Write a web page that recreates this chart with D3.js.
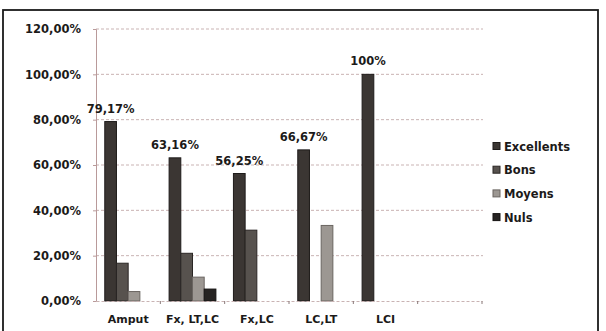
<!DOCTYPE html>
<html>
<head>
<meta charset="utf-8">
<script src="https://cdn.jsdelivr.net/npm/d3@7/dist/d3.min.js"></script>
<style>
  html, body { margin: 0; padding: 0; background: #ffffff; }
  svg { display: block; }
  text { font-family: "DejaVu Sans", Verdana, sans-serif; font-weight: bold; fill: #1c1a19; }
</style>
</head>
<body>
<svg id="chart" width="606" height="331"></svg>
<script>
const categories = ["Amput", "Fx, LT,LC", "Fx,LC", "LC,LT", "LCI", ""];
const series = ["Excellents", "Bons", "Moyens", "Nuls"];
const excellents = [79.17, 63.16, 56.25, 66.67, 100, 0];
const bons       = [16.67, 21.05, 31.25, 0, 0, 0];
const moyens     = [4.17, 10.53, 0, 33.33, 0, 0];
const nuls       = [0, 5.26, 0, 0, 0, 0];
const excellentLabels = ["79,17%", "63,16%", "56,25%", "66,67%", "100%", ""];
const yTicks = [0, 20, 40, 60, 80, 100, 120];
const yTickLabels = ["0,00%", "20,00%", "40,00%", "60,00%", "80,00%", "100,00%", "120,00%"];

const seriesValues = [excellents, bons, moyens, nuls];
const colors = {"Excellents": "#3b3633", "Bons": "#57524e", "Moyens": "#9c9792", "Nuls": "#262322"};
const strokes = {"Excellents": "#1e1b1a", "Bons": "#2a2624", "Moyens": "#6a6561", "Nuls": "#141211"};

const svg = d3.select("#chart");
const plotL = 96, plotR = 482, plotT = 29, plotB = 301;

// frame
svg.append("rect").attr("x", 3).attr("y", 10).attr("width", 595).attr("height", 330)
  .attr("fill", "none").attr("stroke", "#1a1a1a").attr("stroke-width", 1.8);

const x0 = d3.scaleBand().domain(categories).range([plotL, plotR]).paddingInner(0).paddingOuter(0);
const x1 = d3.scaleBand().domain(series).range([0, x0.bandwidth()]).paddingInner(0).paddingOuter(0.75);
const y = d3.scaleLinear().domain([0, 120]).range([plotB, plotT]);

// gridlines
svg.append("g").selectAll("line").data(yTicks.filter(d => d > 0)).join("line")
  .attr("x1", plotL).attr("x2", plotR + 1)
  .attr("y1", d => y(d)).attr("y2", d => y(d))
  .attr("stroke", "#c9b3b3").attr("stroke-width", 1).attr("stroke-dasharray", "3,2");

// y axis
const yAxis = d3.axisLeft(y).tickValues(yTicks).tickSize(3).tickFormat((d, i) => yTickLabels[i]);
const gy = svg.append("g").attr("transform", `translate(${plotL},0)`).call(yAxis);
gy.select(".domain").attr("stroke", "#b99a9a").attr("stroke-width", 1);
gy.selectAll(".tick line").attr("stroke", "#b99a9a");
gy.selectAll(".tick text").attr("x", -15).attr("font-size", 11.5).attr("fill", "#1c1a19")
  .style("font-family", "DejaVu Sans").style("font-weight", "bold");

// bars
const barData = [];
categories.forEach((c, ci) => {
  series.forEach((s, si) => {
    barData.push({cat: c, ser: s, val: seriesValues[si][ci]});
  });
});
svg.append("g").selectAll("rect").data(barData.filter(d => d.val > 0)).join("rect")
  .attr("x", d => x0(d.cat) + x1(d.ser))
  .attr("width", x1.bandwidth())
  .attr("y", d => y(d.val))
  .attr("height", d => y(0) - y(d.val))
  .attr("fill", d => colors[d.ser])
  .attr("stroke", d => strokes[d.ser]).attr("stroke-width", 1);

// x axis
const xAxis = d3.axisBottom(x0).tickSize(0).tickFormat(d => d);
const gx = svg.append("g").attr("transform", `translate(0,${plotB})`).call(xAxis);
gx.select(".domain").attr("stroke", "#c9b3b3").attr("stroke-dasharray", "3,2");
gx.selectAll(".tick text").attr("dy", 0).attr("y", 22).attr("font-size", 11)
  .style("font-family", "DejaVu Sans").style("font-weight", "bold").attr("fill", "#1c1a19");
// category boundary tick marks
const boundaries = categories.map(c => x0(c) + x0.bandwidth()).slice(0);
svg.append("g").selectAll("line").data(boundaries).join("line")
  .attr("x1", d => d).attr("x2", d => d)
  .attr("y1", plotB).attr("y2", plotB + 3)
  .attr("stroke", "#8a7a7a");

// data labels
svg.append("g").selectAll("text").data(categories.map((c, i) => ({cat: c, val: excellents[i], lab: excellentLabels[i]})).filter(d => d.lab))
  .join("text")
  .attr("x", d => x0(d.cat) + x1("Excellents") + x1.bandwidth() / 2)
  .attr("y", d => y(d.val) - 9)
  .attr("text-anchor", "middle").attr("font-size", 11.5)
  .text(d => d.lab);

// legend
const lg = svg.append("g").attr("transform", "translate(493,146)");
series.forEach((s, i) => {
  const g = lg.append("g").attr("transform", `translate(0,${i * 23.7})`);
  g.append("rect").attr("x", 0).attr("y", -3.5).attr("width", 7).attr("height", 7)
    .attr("fill", colors[s]).attr("stroke", strokes[s]);
  g.append("text").attr("x", 11).attr("y", 4.5).attr("font-size", 11.5).text(s);
});
</script>
</body>
</html>
